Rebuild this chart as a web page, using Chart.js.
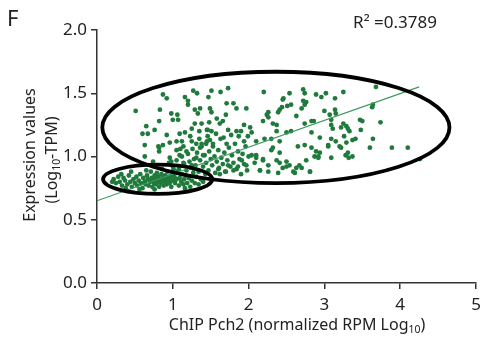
<!DOCTYPE html>
<html>
<head>
<meta charset="utf-8">
<script src="https://cdn.jsdelivr.net/npm/chart.js@4.4.0/dist/chart.umd.min.js"></script>
<style>
  html, body { margin: 0; padding: 0; background: #fff; }
</style>
</head>
<body>
<canvas id="scatter" width="481" height="340"></canvas>
<script>
// low expression cluster (small ellipse)
const lowCluster = [
  [0.20,0.80],[0.22,0.82],[0.25,0.79],[0.28,0.84],[0.30,0.80],[0.32,0.86],[0.33,0.77],[0.35,0.83],
  [0.37,0.81],[0.38,0.75],[0.40,0.78],[0.42,0.85],[0.44,0.80],[0.45,0.88],[0.46,0.76],[0.48,0.82],
  [0.50,0.79],[0.52,0.84],[0.53,0.77],[0.55,0.81],[0.56,0.74],[0.57,0.86],[0.58,0.79],[0.60,0.75],
  [0.61,0.83],[0.63,0.80],[0.64,0.78],[0.65,0.89],[0.66,0.85],[0.67,0.82],[0.68,0.77],[0.70,0.80],
  [0.71,0.88],[0.72,0.83],[0.73,0.76],[0.74,0.81],[0.75,0.79],[0.76,0.85],[0.76,0.74],[0.77,0.82],
  [0.78,0.78],[0.79,0.87],[0.80,0.80],[0.81,0.84],[0.82,0.76],[0.83,0.82],[0.84,0.79],[0.85,0.86],
  [0.86,0.81],[0.86,0.90],[0.87,0.83],[0.88,0.77],[0.89,0.80],[0.90,0.85],[0.91,0.82],[0.92,0.78],
  [0.93,0.88],[0.94,0.81],[0.95,0.84],[0.96,0.79],[0.97,0.83],[0.98,0.76],[0.99,0.86],[1.00,0.81],
  [1.01,0.90],[1.02,0.84],[1.03,0.79],[1.05,0.82],[1.06,0.88],[1.08,0.77],[1.09,0.83],[1.11,0.80],
  [1.12,0.86],[1.14,0.78],[1.15,0.82],[1.16,0.75],[1.17,0.85],[1.19,0.79],[1.21,0.83],[1.23,0.76],
  [1.25,0.81],[1.27,0.87],[1.28,0.90],[1.29,0.79],[1.31,0.84],[1.34,0.78],[1.37,0.82],[1.40,0.80]
];

// dense middle of the cloud
const denseCloud = [
  [1.00,0.92],[1.05,0.97],[1.08,0.90],[1.12,1.00],[1.15,0.94],[1.18,0.89],[1.20,1.02],[1.22,0.96],
  [1.24,0.91],[1.26,1.06],[1.28,0.98],[1.30,0.93],[1.32,1.03],[1.34,0.88],[1.36,0.97],[1.38,1.10],
  [1.40,0.92],[1.42,1.01],[1.44,0.95],[1.45,1.12],[1.47,0.89],[1.48,1.04],[1.50,0.98],[1.52,0.93],
  [1.53,1.08],[1.55,1.00],[1.56,0.87],[1.58,0.96],[1.60,1.05],[1.61,0.91],[1.63,1.14],[1.64,0.99],
  [1.66,0.94],[1.68,1.03],[1.70,0.88],[1.72,0.97],[1.74,1.07],[1.76,0.92],[1.78,1.01],[1.80,0.95],
  [1.82,1.10],[1.84,0.90],[1.86,1.04],[1.88,0.98],[1.90,0.86],[1.92,1.02],[1.94,0.94],[1.96,1.08],
  [1.98,0.89],[2.00,1.00],[1.46,1.16],[1.57,1.18],[1.67,1.15],[1.77,1.17],[1.35,1.14],[1.25,1.12],
  [1.10,1.06],[0.95,0.95],[1.43,0.86],[1.62,0.86]
];

// upper / spread part of the cloud
const upperCloud = [
  [0.87,1.49],[0.92,1.46],[0.51,1.36],[1.16,1.47],[1.20,1.44],[1.20,1.41],[1.27,1.52],[1.32,1.50],
  [0.83,1.37],[0.98,1.34],[1.06,1.33],[1.00,1.29],[1.07,1.29],[1.29,1.37],[1.36,1.38],[1.33,1.34],
  [0.82,1.28],[0.65,1.24],[0.76,1.21],[1.29,1.26],[1.38,1.26],[1.25,1.22],[1.35,1.20],[1.45,1.21],
  [0.60,1.18],[0.67,1.18],[0.92,1.17],[1.09,1.18],[1.16,1.19],[1.23,1.16],[0.63,1.09],[0.81,1.08],
  [0.87,1.09],[0.96,1.11],[1.05,1.12],[1.12,1.12],[1.14,1.08],[1.31,1.10],[1.38,1.08],[1.44,1.10],
  [0.82,1.07],[1.05,1.05],[0.82,1.04],[0.96,0.99],[0.63,1.00],[0.74,0.96],[0.98,0.96],[1.09,1.01],
  [1.18,1.04],[1.31,0.99],[1.40,1.01],[1.14,0.95],[1.36,1.07],[1.25,0.93],
  [1.51,1.52],[1.47,1.47],[1.63,1.51],[1.73,1.54],[2.20,1.51],[1.49,1.38],[1.51,1.35],[1.71,1.42],
  [1.80,1.42],[1.84,1.38],[1.97,1.38],[1.70,1.33],[1.58,1.30],[1.66,1.28],[1.62,1.26],[1.48,1.27],
  [1.46,1.21],[1.51,1.20],[1.73,1.21],[1.84,1.20],[1.90,1.20],[1.94,1.25],[2.02,1.23],[2.04,1.19],
  [1.99,1.16],[1.87,1.16],[1.94,1.12],[1.49,1.13],[1.53,1.10],[1.71,1.10],[2.10,1.12],[2.19,1.28],
  [2.24,1.33],[2.26,1.35],[2.32,1.26],[2.37,1.25],[2.39,1.35],[2.44,1.39],[2.46,1.46],[2.54,1.50],
  [2.56,1.41],[2.63,1.32],[2.72,1.53],[2.74,1.50],[2.76,1.43],[2.70,1.38],[2.74,1.26],[2.83,1.28],
  [2.37,1.20],[2.50,1.19],[2.56,1.20],[2.21,1.14],[2.30,1.14],[2.41,1.12],[2.32,1.07],[2.65,1.08],
  [2.74,1.09],[2.45,1.45],[2.51,1.40],[2.72,1.44],[2.74,1.41],[2.41,1.37],[2.26,1.31]
];

// lower right part of the cloud
const lowerCloud = [
  [2.30,1.05],[2.41,1.03],[2.37,0.97],[2.41,0.95],[2.50,0.96],[2.54,0.93],[2.45,0.91],[2.59,0.88],
  [2.63,0.91],[2.26,0.88],[2.39,0.87],[2.08,0.95],[2.15,0.89],[2.19,0.97],[2.04,1.01],[2.10,0.99],
  [1.97,0.93],[1.91,0.97],[1.86,0.92],[1.80,0.89],[1.73,0.93],[1.69,0.88],[1.60,0.90],[2.70,0.91],
  [2.76,0.97],[2.83,1.07],[2.10,1.01],[2.19,0.98],[2.26,0.93],[2.50,0.92],[2.61,0.87],[2.67,0.93],
  [2.81,0.88],[2.92,1.00],[2.15,0.89]
];

// right-hand part of the cloud
const rightCloud = [
  [3.68,1.55],[2.89,1.49],[2.96,1.47],[3.02,1.50],[3.25,1.51],[3.14,1.46],[3.14,1.37],[3.00,1.36],
  [3.07,1.33],[3.15,1.34],[3.64,1.41],[3.63,1.39],[2.86,1.28],[3.09,1.29],[3.09,1.25],[3.11,1.22],
  [3.25,1.26],[3.22,1.23],[3.29,1.24],[3.31,1.22],[3.33,1.20],[3.47,1.29],[3.50,1.28],[3.48,1.21],
  [3.74,1.27],[2.83,1.19],[2.94,1.15],[3.26,1.16],[3.09,1.14],[3.15,1.12],[3.29,1.11],[3.37,1.13],
  [3.41,1.14],[3.64,1.14],[3.05,1.09],[3.20,1.08],[3.60,1.07],[3.89,1.07],[4.10,1.07],
  [2.89,1.04],[2.94,1.03],[2.87,1.00],[2.92,0.99],[3.09,0.99],[3.05,1.08],[3.22,1.07],[3.28,1.01],
  [3.31,1.03],[3.32,0.99],[3.37,1.00],[2.81,0.88],[4.26,0.98]
];

// regression line end points
const fitX = [0, 4.25];
const fitY = [0.65, 1.55];

// axis ticks
const xTicks = [0, 1, 2, 3, 4, 5];
const yTicks = [0, 0.5, 1.0, 1.5, 2.0];

// hand-drawn ellipses (centre and radii in data units)
const ellipses = [
  { cx: 2.36, cy: 1.23, rx: 2.29, ry: 0.44 },
  { cx: 0.80, cy: 0.82, rx: 0.72, ry: 0.115 }
];

const FONT = '"Noto Sans", "DejaVu Sans", sans-serif';
const TXT = '#222';

const allPoints = lowCluster.concat(denseCloud, upperCloud, lowerCloud, rightCloud)
  .map(p => ({ x: p[0], y: p[1] }));

function richText(ctx, parts, x, y, size, rot) {
  ctx.save();
  ctx.translate(x, y);
  ctx.rotate(rot);
  ctx.fillStyle = TXT;
  ctx.textBaseline = 'middle';
  ctx.textAlign = 'left';
  const sub = size * 0.65;
  let w = 0;
  parts.forEach(p => {
    ctx.font = (p.sub ? sub : size) + 'px ' + FONT;
    w += ctx.measureText(p.t).width;
  });
  let cur = -w / 2;
  parts.forEach(p => {
    ctx.font = (p.sub ? sub : size) + 'px ' + FONT;
    ctx.fillText(p.t, cur, p.sub ? size * 0.32 : 0);
    cur += ctx.measureText(p.t).width;
  });
  ctx.restore();
}

const extras = {
  id: 'extras',
  afterDatasetsDraw(chart) {
    const { ctx, scales: { x, y } } = chart;
    ctx.save();
    ctx.strokeStyle = '#000';
    ctx.lineWidth = 3.8;
    ellipses.forEach(e => {
      const cx = x.getPixelForValue(e.cx);
      const cy = y.getPixelForValue(e.cy);
      const rx = x.getPixelForValue(e.cx + e.rx) - cx;
      const ry = cy - y.getPixelForValue(e.cy + e.ry);
      ctx.beginPath();
      ctx.ellipse(cx, cy, rx, ry, 0, 0, Math.PI * 2);
      ctx.stroke();
    });
    ctx.restore();
  },
  afterDraw(chart) {
    const ctx = chart.ctx;
    ctx.save();
    ctx.fillStyle = TXT;
    ctx.font = '22px ' + FONT;
    ctx.textBaseline = 'middle';
    ctx.fillText('F', 7, 20);
    ctx.restore();
    richText(ctx, [{ t: 'R² =0.3789' }], 395, 23, 17, 0);
    richText(ctx, [{ t: 'ChIP Pch2 (normalized RPM Log' }, { t: '10', sub: true }, { t: ')' }], 297, 325, 16, 0);
    richText(ctx, [{ t: 'Expression values' }], 30, 155, 16, -Math.PI / 2);
    richText(ctx, [{ t: '(Log' }, { t: '10', sub: true }, { t: '-TPM)' }], 52, 160, 16, -Math.PI / 2);
  }
};

const ctx = document.getElementById('scatter');

new Chart(ctx, {
  type: 'scatter',
  data: {
    datasets: [{
      data: allPoints,
      backgroundColor: '#1f7a3c',
      borderWidth: 0,
      pointRadius: 2.4,
      order: 2
    }, {
      type: 'line',
      data: fitX.map((v, i) => ({ x: v, y: fitY[i] })),
      borderColor: '#3f9a5e',
      borderWidth: 1.2,
      pointRadius: 0,
      order: 1
    }]
  },
  options: {
    responsive: false,
    animation: false,
    devicePixelRatio: 1,
    layout: { padding: { top: 30, right: 5, left: 0, bottom: 0 } },
    plugins: { legend: { display: false }, tooltip: { enabled: false } },
    scales: {
      x: {
        type: 'linear',
        min: 0,
        max: 5,
        afterBuildTicks: s => { s.ticks = xTicks.map(v => ({ value: v })); },
        afterFit: s => { s.height = 57; s.paddingLeft = 0; s.paddingRight = 0; },
        ticks: { color: TXT, font: { family: FONT, size: 17 }, padding: 6, callback: v => String(v) },
        grid: { drawOnChartArea: false, drawTicks: true, tickLength: 6, color: '#333', lineWidth: 1.5 },
        border: { display: true, color: '#333', width: 1.5 }
      },
      y: {
        min: 0,
        max: 2,
        afterBuildTicks: s => { s.ticks = yTicks.map(v => ({ value: v })); },
        afterFit: s => { s.width = 97; s.paddingTop = 0; s.paddingBottom = 0; },
        ticks: { color: TXT, font: { family: FONT, size: 17 }, padding: 4, callback: v => v.toFixed(1) },
        grid: { drawOnChartArea: false, drawTicks: true, tickLength: 6, color: '#333', lineWidth: 1.5 },
        border: { display: true, color: '#333', width: 1.5 }
      }
    }
  },
  plugins: [extras]
});
</script>
</body>
</html>
